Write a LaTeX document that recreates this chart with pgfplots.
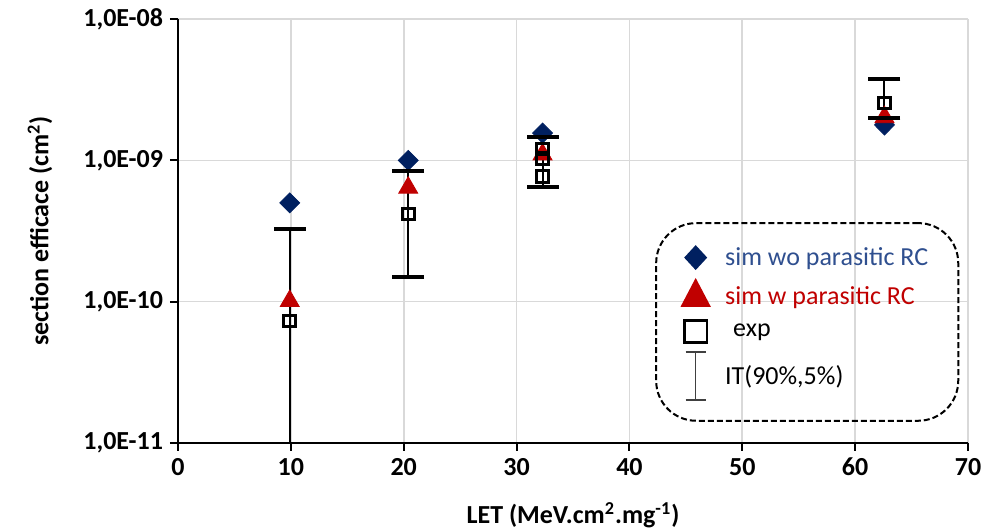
\documentclass[border=0pt]{standalone}
\usepackage{fontspec}
\setmainfont{Carlito}
\usepackage{pgfplots}
\pgfplotsset{compat=1.18}
\usetikzlibrary{calc}
\definecolor{navy}{HTML}{002060}
\definecolor{navytxt}{HTML}{2F4F8F}
\definecolor{redc}{HTML}{C00000}
\definecolor{gridc}{HTML}{D9D9D9}
\newcommand\lbl{\fontsize{13}{15.6}\selectfont}
\begin{document}
\begin{tikzpicture}
\begin{axis}[name=ax, scale only axis, width=395pt, height=212pt,
  xmin=0, xmax=70, ymode=log, ymin=1e-11, ymax=1e-8,
  xtick={0,10,20,30,40,50,60,70},
  ytick={1e-11,1e-10,1e-9,1e-8},
  yticklabels={{1,0E-11},{1,0E-10},{1,0E-09},{1,0E-08}},
  yminorticks=false,
  axis x line=bottom, axis y line=left,
  axis line style={line width=1pt, -},
  tick align=outside, major tick length=4pt,
  tick style={black, line width=1pt},
  grid=major, major grid style={gridc, line width=0.8pt},
  ticklabel style={font=\lbl\bfseries},
  /pgf/number format/assume math mode=true,
  xlabel={LET (MeV.cm\textsuperscript{2}.mg\textsuperscript{-1})},
  ylabel={section efficace (cm\textsuperscript{2})},
  label style={font=\lbl\bfseries},
  xlabel style={at={(axis description cs:0.5,-0.17)}, anchor=center},
  ylabel style={at={(axis description cs:-0.1747,0.5)}, anchor=center},
  legend style={at={(rel axis cs:0.604,0.521)}, anchor=north west,
    draw=black, line width=1pt, dash pattern=on 3pt off 1.5pt,
    rounded corners=20pt, inner xsep=13pt, inner ysep=10pt,
    row sep=4pt, column sep=6pt, font=\lbl, fill=none},
  legend cell align=left,
]
% sim wo parasitic RC
\addplot[forget plot, only marks, mark=diamond*, mark size=5pt,
  mark options={fill=navy, draw=navy, xscale=1.33, solid}]
  coordinates {(9.9,5.0e-10) (20.4,1.0e-9) (32.3,1.56e-9) (62.6,1.78e-9)};
% sim w parasitic RC
\addplot[forget plot, only marks, mark=triangle*, mark size=5.5pt,
  mark options={fill=redc, draw=redc, solid}]
  coordinates {(9.9,1.01e-10) (20.4,6.4e-10) (32.3,1.1e-9) (62.6,2.02e-9)};
% IT(90%,5%) error bars
\addplot[forget plot, black, line width=1pt, mark=-, mark size=8pt,
  mark options={line width=2pt, solid}] coordinates {(9.9,1e-12) (9.9,3.27e-10)};
\addplot[forget plot, black, line width=1pt, mark=-, mark size=8pt,
  mark options={line width=2pt, solid}] coordinates {(20.4,1.5e-10) (20.4,8.4e-10)};
\addplot[forget plot, black, line width=1pt, mark=-, mark size=8pt,
  mark options={line width=2pt, solid}] coordinates {(32.3,6.5e-10) (32.3,1.46e-9)};
\addplot[forget plot, black, line width=1pt, mark=-, mark size=8pt,
  mark options={line width=2pt, solid}] coordinates {(62.6,2.0e-9) (62.6,3.76e-9)};
% exp
\addplot[forget plot, only marks, mark=square, mark size=2.9pt,
  mark options={draw=black, line width=1.5pt, solid}]
  coordinates {(9.9,7.3e-11) (20.4,4.17e-10) (32.3,1.2e-9) (32.3,1.03e-9) (32.3,7.7e-10) (62.6,2.54e-9)};

\addlegendimage{only marks, solid, sharp corners, mark=diamond*, mark size=5.5pt,
  mark options={fill=navy, draw=navy, xscale=1.23, solid, sharp corners}}
\addlegendentry{\textcolor{navytxt}{sim wo parasitic RC}}
\addlegendimage{only marks, solid, sharp corners, mark=triangle*, mark size=7.8pt,
  mark options={fill=redc, draw=redc, yscale=1.1, solid, sharp corners}}
\addlegendentry{\textcolor{redc}{sim w parasitic RC}}
\addlegendimage{only marks, solid, sharp corners, mark=square, mark size=5.6pt,
  mark options={draw=black, line width=1.3pt, solid, sharp corners}}
\addlegendentry{\hspace{4pt}exp}
\addlegendimage{legend image code/.code={
  \draw[solid, sharp corners, black!75, line width=0.7pt]
    (0.3cm,-12pt) -- (0.3cm,12pt)
    (0.3cm-5pt,-12pt) -- (0.3cm+5pt,-12pt)
    (0.3cm-5pt,12pt) -- (0.3cm+5pt,12pt);}}
\addlegendentry{IT(90\%,5\%)}
\end{axis}
\pgfresetboundingbox
\path[use as bounding box] ($(ax.south west)+(-89pt,-44.5pt)$) rectangle ($(ax.north east)+(16pt,9.5pt)$);
\end{tikzpicture}
\end{document}
